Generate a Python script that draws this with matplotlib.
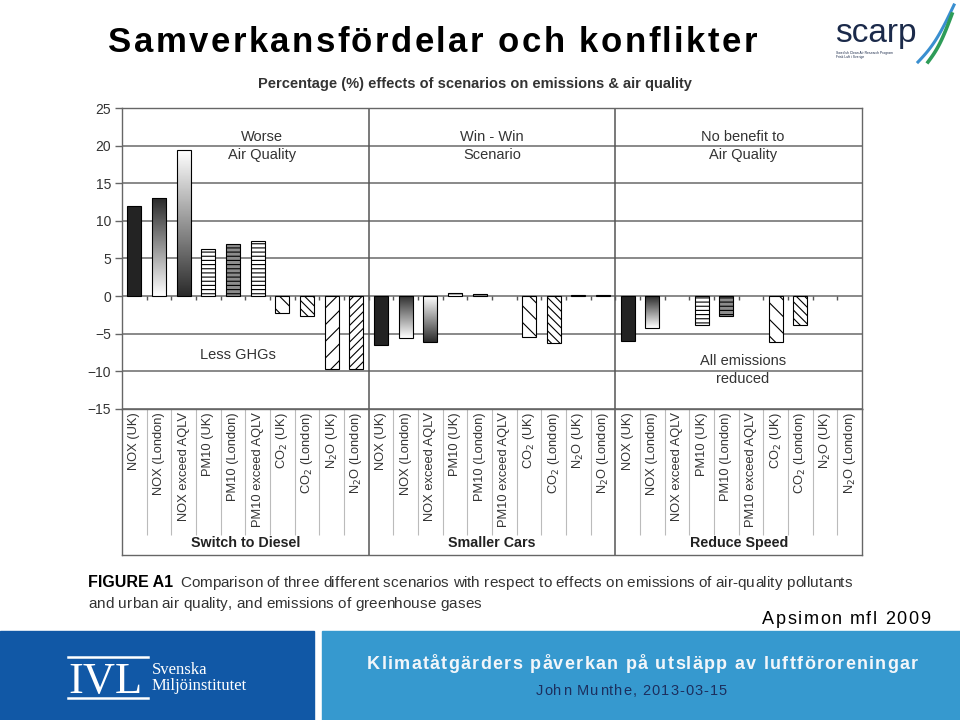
import numpy as np
import matplotlib
matplotlib.use('Agg')
import matplotlib.pyplot as plt
from matplotlib.colors import LinearSegmentedColormap
from matplotlib.patches import Rectangle
from matplotlib.lines import Line2D

# values (percent change)
categories = ["NOX (UK)", "NOX (London)", "NOX exceed AQLV", "PM10 (UK)", "PM10 (London)",
              "PM10 exceed AQLV", "CO$_2$ (UK)", "CO$_2$ (London)", "N$_2$O (UK)", "N$_2$O (London)"]
scenarios = ["Switch to Diesel", "Smaller Cars", "Reduce Speed"]
diesel = [12.0, 13.0, 19.4, 6.3, 6.9, 7.3, -2.3, -2.7, -9.7, -9.7]
smaller_cars = [-6.5, -5.6, -6.1, 0.4, 0.3, 0.0, -5.5, -6.3, 0.15, 0.15]
reduce_speed = [-6.0, -4.2, 0.0, -3.8, -2.7, 0.0, -6.1, -3.8, 0.0, 0.0]
yticks = [-15, -10, -5, 0, 5, 10, 15, 20, 25]

# per-category styling
bar_face = ['#232323', 'none', 'none', 'white', '#8c8c8c', 'white', 'white', 'white', 'white', 'white']
bar_hatch = [None, None, None, '----', '----', '----', '\\\\', '\\\\\\\\', '//', '////']
bar_grad = [None, 'dark_top', 'dark_bottom', None, None, None, None, None, None, None]

W, H = 960, 720
plt.rcParams['font.family'] = ['Liberation Sans', 'DejaVu Sans']
plt.rcParams['hatch.linewidth'] = 0.8


def fx(px):
    return px / W


def fy(py):
    return 1 - py / H


def spread(fig, s, x0, x1, ybase, **kw):
    # draw a string char by char so it fills x0..x1 (the slide uses wide letter spacing)
    r = fig.canvas.get_renderer()

    def width(txt):
        t = fig.text(0, 0, txt, **kw)
        w = t.get_window_extent(r).width
        t.remove()
        return w

    sp = width('n n') - width('nn')
    widths = [sp if ch == ' ' else width(ch) for ch in s]
    gap = (x1 - x0 - sum(widths)) / (len(s) - 1)
    x = x0
    for ch, w in zip(s, widths):
        if ch != ' ':
            fig.text(fx(x), fy(ybase), ch, ha='left', va='baseline', **kw)
        x += w + gap


fig = plt.figure(figsize=(9.6, 7.2), dpi=100)
fig.patch.set_facecolor('white')

# ---- slide header ----
sans = ['Liberation Sans', 'DejaVu Sans']
spread(fig, 'Samverkansfördelar och konflikter', 108, 757, 52, fontsize=25,
       fontweight='bold', family=sans, color='black')

fig.text(fx(835), fy(42), 'scarp', fontsize=24, color='#1b2a4a', va='baseline', ha='left')
fig.text(fx(836), fy(55), 'Swedish Clean Air Research Program\nFrisk Luft i Sverige',
         fontsize=2.4, color='#1b2a4a', va='center', ha='left', linespacing=1.2)
t = np.linspace(0, 1, 60)
fig.add_artist(Line2D(fx(918 + 36 * t), fy(62 - 57 * t + 6 * np.sin(np.pi * t)),
                      color='#3a8fd0', lw=2.2, transform=fig.transFigure))
fig.add_artist(Line2D(fx(928 + 24 * t), fy(62 - 48 * t + 5 * np.sin(np.pi * t)),
                      color='#2e9c58', lw=2.6, transform=fig.transFigure))

# ---- main chart ----
ax = fig.add_axes([fx(122), fy(408.8), 740 / W, (408.8 - 108) / H])
values = diesel + smaller_cars + reduce_speed
x = np.arange(len(values))

bars = ax.bar(x, values, width=0.57, color=bar_face * 3, edgecolor='black',
              linewidth=0.8, zorder=3)
for b, h in zip(bars, bar_hatch * 3):
    if h:
        b.set_hatch(h)
for b, v in zip(bars, values):
    if v == 0:
        b.set_visible(False)

cm = LinearSegmentedColormap.from_list('grey_fade', ['#2b2b2b', '#ffffff'])
for b, g in zip(bars, bar_grad * 3):
    if g is None or not b.get_visible():
        continue
    x0, w = b.get_x(), b.get_width()
    lo = min(b.get_y(), b.get_y() + b.get_height())
    hi = max(b.get_y(), b.get_y() + b.get_height())
    arr = np.linspace(0, 1, 200).reshape(-1, 1)
    if g == 'dark_bottom':
        arr = arr[::-1]
    im = ax.imshow(arr, cmap=cm, extent=[x0, x0 + w, lo, hi], aspect='auto',
                   zorder=2.5, interpolation='bilinear')
    im.set_clip_path(b)

ax.set_xlim(-0.5, len(values) - 0.5)
ax.set_ylim(-15, 25)
ax.set_yticks(yticks)
ax.set_xticks([])
ax.yaxis.grid(True, color='#6a6a6a', lw=1.1)
ax.set_axisbelow(True)
ax.tick_params(axis='y', length=5, width=1, color='#666', labelsize=10,
               labelcolor='#333', pad=3)
for s in ax.spines.values():
    s.set_color('#666')
    s.set_linewidth(1)

# little ticks under the zero line and scenario separators
ax.vlines(np.arange(0.5, len(values) - 1, 1), -0.5, 0, color='#555', lw=1, zorder=1)
for sep in [9.5, 19.5]:
    ax.axvline(sep, color='#555', lw=1.1, zorder=1)

txt = dict(ha='center', va='center', fontsize=10.5, color='#333', linespacing=1.3)
ax.text(5.17, 19.95, 'Worse\nAir Quality', **txt)
ax.text(14.5, 19.95, 'Win - Win\nScenario', **txt)
ax.text(24.67, 19.95, 'No benefit to\nAir Quality', **txt)
ax.text(4.2, -7.85, 'Less GHGs', **txt)
ax.text(24.67, -9.85, 'All emissions\nreduced', **txt)

fig.text(fx(475), fy(84), 'Percentage (%) effects of scenarios on emissions & air quality',
         ha='center', va='center', fontsize=10.5, fontweight='bold', color='#333')

# ---- category label strip ----
lab = fig.add_axes([fx(122), fy(555), 740 / W, (555 - 408.8) / H])
lab.set_xlim(-0.5, len(values) - 0.5)
lab.set_ylim(0, 1)
lab.set_xticks([])
lab.set_yticks([])
for s in lab.spines.values():
    s.set_color('#666')
    s.set_linewidth(1)
inner = [b for b in np.arange(0.5, len(values) - 1, 1) if b not in (9.5, 19.5)]
lab.vlines(inner, 0.136, 1, color='#bbbbbb', lw=0.8)
lab.vlines([9.5, 19.5], 0, 1, color='#555', lw=1.1)
for i, c in enumerate(categories * 3):
    lab.text(i, 0.975, c, rotation=90, ha='center', va='top', fontsize=9.3, color='#333')
for k, name in enumerate(scenarios):
    lab.text(k * 10 + 4.5, 0.082, name, ha='center', va='center', fontsize=10.3,
             fontweight='bold', color='#222')

# ---- caption ----
fig.text(fx(88), fy(587), 'FIGURE A1', fontsize=11.5, fontweight='bold', family=sans,
         color='black', va='baseline', ha='left')
spread(fig, 'Comparison of three different scenarios with respect to effects on emissions of air-quality pollutants',
       180, 852, 587, fontsize=11, family=sans, color='#333')
spread(fig, 'and urban air quality, and emissions of greenhouse gases', 88, 481, 608,
       fontsize=11, family=sans, color='#333')
spread(fig, 'Apsimon mfl 2009', 762, 930, 624, fontsize=13, family=sans, color='black')

# ---- footer band ----
fig.add_artist(Rectangle((0, 0), fx(314), fy(631), color='#1158a6',
                         transform=fig.transFigure))
fig.add_artist(Rectangle((fx(322), 0), 1 - fx(322), fy(631), color='#3699cf',
                         transform=fig.transFigure))
serif = ['Liberation Serif', 'DejaVu Serif']
fig.text(fx(68), fy(693), 'IVL', fontsize=32, family=serif, color='white', va='baseline', ha='left')
for yy in [657, 698]:
    fig.add_artist(Line2D([fx(68), fx(148)], [fy(yy), fy(yy)], color='white', lw=1.8,
                          transform=fig.transFigure))
fig.text(fx(152), fy(674), 'Svenska', fontsize=12, family=serif, color='white', va='baseline')
fig.text(fx(152), fy(690), 'Miljöinstitutet', fontsize=12, family=serif, color='white', va='baseline')
spread(fig, 'Klimatåtgärders påverkan på utsläpp av luftföroreningar', 367, 918, 669,
       fontsize=13, fontweight='bold', family=sans, color='#f2f6fa')
spread(fig, 'John Munthe, 2013-03-15', 536, 727, 695, fontsize=10.5, family=sans,
       color='#1c2f5e')

fig.savefig('out.png', dpi=100, facecolor='white')
